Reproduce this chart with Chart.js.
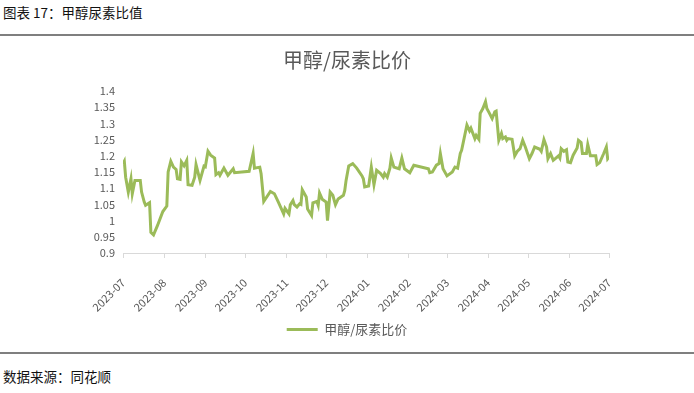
<!DOCTYPE html>
<html>
<head>
<meta charset="utf-8">
<script src="https://cdn.jsdelivr.net/npm/chart.js@4.4.1/dist/chart.umd.min.js"></script>
<style>
  body { margin: 0; background: #fff; font-family: 'Noto Sans CJK SC', sans-serif; }
  #page { position: relative; width: 694px; height: 393px; overflow: hidden; }
  .caption { position: absolute; left: 3px; font-size: 13.5px; color: #111; line-height: 1; }
  .rule { position: absolute; left: 0; width: 694px; height: 2px; background: #7f7f7f; }
  #chart-box { position: absolute; left: 0; top: 36px; width: 694px; height: 316px; }
</style>
</head>
<body>
<div id="page">
  <div class="caption" style="top:6px">图表 17：甲醇尿素比值</div>
  <div class="rule" style="top:34px"></div>
  <div id="chart-box"><canvas id="my-chart"></canvas></div>
  <div class="rule" style="top:352px"></div>
  <div class="caption" style="top:370px">数据来源：同花顺</div>
</div>
<script>
// month ticks on the x axis
let tickLabels = ['2023-07', '2023-08', '2023-09', '2023-10', '2023-11', '2023-12',
    '2024-01', '2024-02', '2024-03', '2024-04', '2024-05', '2024-06', '2024-07'];

// y axis ticks
let yTicks = [0.9, 0.95, 1, 1.05, 1.1, 1.15, 1.2, 1.25, 1.3, 1.35, 1.4];

// 甲醇/尿素比价
let dates = [
    '2023-07-01', '2023-07-02', '2023-07-03', '2023-07-05', '2023-07-07', '2023-07-08', '2023-07-10', '2023-07-14',
    '2023-07-15', '2023-07-17', '2023-07-18', '2023-07-21', '2023-07-22', '2023-07-24', '2023-07-27', '2023-07-31',
    '2023-08-03', '2023-08-04', '2023-08-06', '2023-08-08', '2023-08-10', '2023-08-11', '2023-08-13', '2023-08-14',
    '2023-08-16', '2023-08-18', '2023-08-19', '2023-08-22', '2023-08-24', '2023-08-25', '2023-08-28', '2023-08-31',
    '2023-09-01', '2023-09-03', '2023-09-05', '2023-09-08', '2023-09-09', '2023-09-11', '2023-09-12', '2023-09-15',
    '2023-09-18', '2023-09-22', '2023-09-23', '2023-10-04', '2023-10-07', '2023-10-08', '2023-10-12', '2023-10-13',
    '2023-10-15', '2023-10-20', '2023-10-23', '2023-10-26', '2023-10-30', '2023-10-31', '2023-11-03', '2023-11-04',
    '2023-11-06', '2023-11-07', '2023-11-09', '2023-11-11', '2023-11-12', '2023-11-13', '2023-11-16', '2023-11-17',
    '2023-11-20', '2023-11-21', '2023-11-24', '2023-11-25', '2023-11-26', '2023-11-28', '2023-12-01', '2023-12-02',
    '2023-12-04', '2023-12-06', '2023-12-08', '2023-12-10', '2023-12-14', '2023-12-15', '2023-12-16', '2023-12-18',
    '2023-12-21', '2023-12-24', '2023-12-28', '2023-12-29', '2023-12-30', '2024-01-02', '2024-01-04', '2024-01-06',
    '2024-01-08', '2024-01-11', '2024-01-13', '2024-01-14', '2024-01-16', '2024-01-18', '2024-01-19', '2024-01-21',
    '2024-01-25', '2024-01-27', '2024-01-29', '2024-02-02', '2024-02-05', '2024-02-16', '2024-02-17', '2024-02-19',
    '2024-02-22', '2024-02-24', '2024-02-25', '2024-02-27', '2024-03-01', '2024-03-05', '2024-03-07', '2024-03-09',
    '2024-03-11', '2024-03-12', '2024-03-16', '2024-03-18', '2024-03-19', '2024-03-22', '2024-03-23', '2024-03-25',
    '2024-03-26', '2024-03-28', '2024-03-30', '2024-03-31', '2024-04-02', '2024-04-04', '2024-04-06', '2024-04-07',
    '2024-04-09', '2024-04-11', '2024-04-12', '2024-04-14', '2024-04-15', '2024-04-16', '2024-04-19', '2024-04-21',
    '2024-04-23', '2024-04-25', '2024-04-27', '2024-04-29', '2024-05-02', '2024-05-04', '2024-05-06', '2024-05-10',
    '2024-05-11', '2024-05-13', '2024-05-15', '2024-05-16', '2024-05-18', '2024-05-20', '2024-05-22', '2024-05-24',
    '2024-05-25', '2024-05-26', '2024-05-28', '2024-05-30', '2024-05-31', '2024-06-02', '2024-06-04', '2024-06-07',
    '2024-06-08', '2024-06-10', '2024-06-11', '2024-06-14', '2024-06-15', '2024-06-17', '2024-06-21', '2024-06-22',
    '2024-06-24', '2024-06-27', '2024-06-29', '2024-06-30', '2024-07-01'
];
let ratio = [
    1.175, 1.183, 1.134, 1.088, 1.129, 1.083, 1.124, 1.124,
    1.088, 1.057, 1.047, 1.055, 0.964, 0.956, 0.985, 1.028,
    1.045, 1.150, 1.183, 1.165, 1.158, 1.129, 1.127, 1.181,
    1.169, 1.186, 1.111, 1.109, 1.134, 1.173, 1.124, 1.168,
    1.166, 1.214, 1.202, 1.193, 1.142, 1.148, 1.140, 1.162,
    1.140, 1.160, 1.148, 1.152, 1.207, 1.162, 1.165, 1.145,
    1.059, 1.090, 1.083, 1.057, 1.021, 1.038, 1.021, 1.049,
    1.062, 1.049, 1.042, 1.052, 1.050, 1.095, 1.073, 1.036,
    1.016, 1.055, 1.059, 1.047, 1.085, 1.066, 1.057, 1.000,
    1.088, 1.078, 1.049, 1.067, 1.078, 1.093, 1.124, 1.169,
    1.176, 1.162, 1.138, 1.129, 1.104, 1.107, 1.165, 1.111,
    1.155, 1.145, 1.134, 1.145, 1.134, 1.162, 1.193, 1.165,
    1.160, 1.193, 1.160, 1.148, 1.171, 1.160, 1.148, 1.150,
    1.171, 1.176, 1.207, 1.160, 1.138, 1.150, 1.165, 1.162,
    1.207, 1.217, 1.295, 1.277, 1.285, 1.253, 1.263, 1.251,
    1.331, 1.346, 1.367, 1.346, 1.331, 1.315, 1.336, 1.338,
    1.248, 1.269, 1.253, 1.258, 1.248, 1.253, 1.251, 1.200,
    1.214, 1.222, 1.248, 1.227, 1.191, 1.207, 1.227, 1.220,
    1.214, 1.250, 1.227, 1.191, 1.207, 1.186, 1.193, 1.200,
    1.193, 1.222, 1.214, 1.219, 1.181, 1.179, 1.202, 1.224,
    1.248, 1.241, 1.207, 1.207, 1.235, 1.200, 1.200, 1.173,
    1.179, 1.207, 1.227, 1.191, 1.196
];

const DAY = 86400000;
const start = Date.parse(tickLabels[0] + '-01');
const dayOf = (s) => (Date.parse(s) - start) / DAY;

const monthTicks = tickLabels.map(m => dayOf(m + '-01'));
const points = dates.map((d, i) => ({ x: dayOf(d), y: ratio[i] }));

const green = '#9BBB59';
const textGray = '#595959';
const axisGray = '#d9d9d9';

Chart.defaults.font.family = "'Noto Sans CJK SC', sans-serif";
Chart.defaults.color = textGray;

const ctx = document.getElementById('my-chart').getContext('2d');

let myChart = new Chart(ctx, {
    type: 'line',
    data: {
        datasets: [{
            label: '甲醇/尿素比价',
            data: points,
            borderColor: green,
            backgroundColor: green,
            borderWidth: 3,
            pointRadius: 0,
            tension: 0
        }]
    },
    options: {
        responsive: true,
        maintainAspectRatio: false,
        animation: false,
        layout: {
            padding: { left: 0, right: 0, top: 10, bottom: 6 }
        },
        plugins: {
            title: {
                display: true,
                text: '甲醇/尿素比价',
                color: textGray,
                font: { size: 20, weight: 'normal' },
                padding: { top: 2, bottom: 19 }
            },
            legend: {
                position: 'bottom',
                labels: {
                    usePointStyle: true,
                    pointStyle: 'line',
                    pointStyleWidth: 31,
                    color: textGray,
                    font: { size: 13 }
                }
            },
            tooltip: { enabled: false }
        },
        scales: {
            x: {
                type: 'linear',
                min: monthTicks[0],
                max: monthTicks[monthTicks.length - 1],
                afterBuildTicks: (scale) => {
                    scale.ticks = monthTicks.map(v => ({ value: v }));
                },
                afterFit: (scale) => {
                    scale.height = 60;
                },
                ticks: {
                    autoSkip: false,
                    minRotation: 45,
                    maxRotation: 45,
                    padding: 18,
                    font: { size: 11 },
                    color: textGray,
                    callback: (v, i) => tickLabels[i]
                },
                grid: {
                    drawOnChartArea: false,
                    color: axisGray,
                    tickLength: 5
                },
                border: { color: axisGray, width: 1 }
            },
            y: {
                min: yTicks[0],
                max: yTicks[yTicks.length - 1],
                afterBuildTicks: (scale) => {
                    scale.ticks = yTicks.map(v => ({ value: v }));
                },
                afterFit: (scale) => {
                    scale.width = 123;
                },
                ticks: {
                    autoSkip: false,
                    padding: 8,
                    font: { size: 11 },
                    color: textGray,
                    callback: (v) => String(Number(v.toFixed(2)))
                },
                grid: { display: false, drawTicks: false },
                border: { display: false }
            },
            // empty right-hand margin so title and legend centre on the whole chart
            blank: {
                position: 'right',
                afterFit: (scale) => {
                    scale.width = 85;
                },
                ticks: { display: false },
                grid: { display: false, drawTicks: false },
                border: { display: false }
            }
        }
    }
});
</script>
</body>
</html>
